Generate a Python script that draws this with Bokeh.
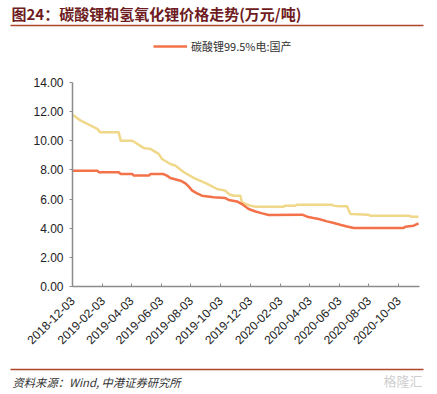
from datetime import datetime, timedelta
import numpy as np
from bokeh.plotting import figure
from bokeh.models import (ColumnDataSource, FixedTicker, DatetimeTickFormatter, NumeralTickFormatter,
                          Range1d, Label, Legend, LegendItem, BoxAnnotation)
from bokeh.embed import file_html
from bokeh.resources import INLINE

# ---------------- data ----------------
carb_dates = ["2018-12-03", "2019-01-23", "2019-01-26", "2019-03-08", "2019-03-12", "2019-04-05",
              "2019-04-08", "2019-05-09", "2019-05-12", "2019-06-08", "2019-06-15", "2019-06-22",
              "2019-07-13", "2019-07-23", "2019-07-30", "2019-08-06", "2019-08-16", "2019-08-26",
              "2019-09-19", "2019-10-13", "2019-10-20", "2019-11-06", "2019-11-16", "2019-11-30",
              "2019-12-14", "2019-12-28", "2020-01-10", "2020-03-19", "2020-03-29", "2020-04-11",
              "2020-04-22", "2020-05-09", "2020-05-23", "2020-06-05", "2020-06-19", "2020-07-03",
              "2020-10-13", "2020-10-17", "2020-11-03", "2020-11-13"]
carb_values = [7.95, 7.95, 7.84, 7.84, 7.72, 7.72,
               7.61, 7.61, 7.72, 7.72, 7.61, 7.45,
               7.26, 7.08, 6.85, 6.58, 6.39, 6.23,
               6.12, 6.07, 5.94, 5.84, 5.66, 5.32,
               5.15, 5.02, 4.91, 4.93, 4.79, 4.70,
               4.63, 4.47, 4.36, 4.24, 4.12, 4.01,
               4.01, 4.10, 4.17, 4.33]

hydro_dates = ["2018-12-03", "2018-12-19", "2019-01-23", "2019-01-29", "2019-03-08", "2019-03-12",
               "2019-04-05", "2019-04-28", "2019-05-12", "2019-05-29", "2019-06-05", "2019-06-22",
               "2019-07-02", "2019-07-20", "2019-08-09", "2019-09-06", "2019-09-26", "2019-10-13",
               "2019-10-20", "2019-10-30", "2019-11-13", "2019-11-16", "2019-12-03", "2019-12-14",
               "2020-02-10", "2020-02-13", "2020-03-05", "2020-03-08", "2020-05-19", "2020-05-22",
               "2020-06-02", "2020-06-19", "2020-06-26", "2020-08-02", "2020-08-06", "2020-10-24",
               "2020-10-30", "2020-11-13"]
hydro_values = [11.78, 11.40, 10.82, 10.58, 10.58, 10.00,
                10.00, 9.51, 9.44, 9.10, 8.75, 8.41,
                8.30, 7.84, 7.45, 7.04, 6.69, 6.58,
                6.35, 6.23, 6.23, 5.77, 5.55, 5.48,
                5.48, 5.55, 5.55, 5.61, 5.61, 5.55,
                5.50, 5.50, 4.98, 4.93, 4.86, 4.86,
                4.79, 4.79]

tick_labels = ["2018-12-03", "2019-02-03", "2019-04-03", "2019-06-03", "2019-08-03", "2019-10-03",
               "2019-12-03", "2020-02-03", "2020-04-03", "2020-06-03", "2020-08-03", "2020-10-03"]
y_ticks = [0, 2, 4, 6, 8, 10, 12, 14]
x_first, x_last = "2018-12-03", "2020-11-15"
y_min, y_max = 0, 14

title_text = "图24：碳酸锂和氢氧化锂价格走势(万元/吨)"
legend_label = "碳酸锂99.5%电:国产"
source_text = "资料来源：Wind, 中港证券研究所"
watermark_text = "格隆汇"

# ---------------- helpers ----------------
def to_dt(s):
    return datetime.strptime(s, "%Y-%m-%d")

def to_ms(s):
    return (to_dt(s) - datetime(1970, 1, 1)).total_seconds() * 1000.0

RED = "#F3724A"
YELLOW = "#F0D88A"
MAROON = "#6E1C22"
RULE = "#B0452E"
AXIS = "#8C8C8C"
FONT = "Liberation Sans"
CJK = "Noto Sans CJK SC"

# canvas layout (pixels): the whole canvas is the plot frame, axes sit at fixed locations
W, H = 433, 392
AX_L, AX_R = 72, 419      # x pixel of first / last date on the axis
AX_T, AX_B = 82, 286      # y pixel of y_max / y_min

span_days = (to_dt(x_last) - to_dt(x_first)).days
px_day = (AX_R - AX_L) / span_days
x_start = to_dt(x_first) - timedelta(days=AX_L / px_day)
x_end = to_dt(x_last) + timedelta(days=(W - AX_R) / px_day)
px_unit = (AX_B - AX_T) / (y_max - y_min)
y_top = y_max + AX_T / px_unit
y_bot = y_min - (H - AX_B) / px_unit

p = figure(width=W, height=H, x_axis_type="datetime", output_backend="svg", toolbar_location=None,
           x_range=Range1d(x_start, x_end), y_range=Range1d(y_bot, y_top),
           min_border=0, min_border_left=0, min_border_right=0, min_border_top=0, min_border_bottom=0)
p.outline_line_color = None
p.grid.visible = False
p.background_fill_color = "white"
p.border_fill_color = "white"

src_h = ColumnDataSource(dict(x=[to_dt(d) for d in hydro_dates], y=hydro_values))
src_c = ColumnDataSource(dict(x=[to_dt(d) for d in carb_dates], y=carb_values))
p.line("x", "y", source=src_h, line_color=YELLOW, line_width=2.5)
r_c = p.line("x", "y", source=src_c, line_color=RED, line_width=2.5)

xa = p.xaxis[0]
xa.fixed_location = y_min
xa.bounds = (to_ms(x_first), to_ms(x_last))
xa.ticker = FixedTicker(ticks=[to_ms(t) for t in tick_labels])
fmt = "%Y-%m-%d"
xa.formatter = DatetimeTickFormatter(milliseconds=fmt, seconds=fmt, minsec=fmt, minutes=fmt, hourmin=fmt,
                                     hours=fmt, days=fmt, months=fmt, years=fmt)
xa.major_label_orientation = np.pi / 4
xa.major_tick_in = 3
xa.major_tick_out = 0
xa.minor_tick_line_color = None
xa.axis_line_color = AXIS
xa.axis_line_width = 1.5
xa.major_tick_line_color = AXIS
xa.major_label_text_font = FONT
xa.major_label_text_font_size = "12px"
xa.major_label_text_color = "#222222"
xa.major_label_standoff = 12

ya = p.yaxis[0]
ya.fixed_location = to_ms(x_first)
ya.bounds = (y_min, y_max)
ya.ticker = FixedTicker(ticks=y_ticks)
ya.formatter = NumeralTickFormatter(format="0.00")
ya.major_tick_in = 0
ya.major_tick_out = 3
ya.minor_tick_line_color = None
ya.axis_line_color = AXIS
ya.axis_line_width = 1.5
ya.major_tick_line_color = AXIS
ya.major_label_text_font = FONT
ya.major_label_text_font_size = "12px"
ya.major_label_text_color = "#222222"
ya.major_label_standoff = 6

# legend (only the carbonate series is listed in the original)
legend = Legend(items=[LegendItem(label=legend_label, renderers=[r_c])],
                location=(153, H - 47 - 7), orientation="horizontal",
                glyph_width=34, glyph_height=14, label_height=14, label_standoff=4,
                padding=0, margin=0, spacing=0,
                border_line_color=None, background_fill_alpha=0,
                label_text_font=CJK, label_text_font_size="11px", label_text_color="#333333")
p.add_layout(legend, "center")

# header / footer texts and rules (screen units, y measured up from the canvas bottom)
p.add_layout(Label(x=11, y=H - 12.5, x_units="screen", y_units="screen", text=title_text,
                   text_font=CJK, text_font_style="bold", text_font_size="15px",
                   text_color=MAROON, text_baseline="middle"))
for rule_y in (25, 369):
    p.add_layout(BoxAnnotation(left=10, right=423, bottom=H - rule_y - 0.8, top=H - rule_y + 0.8,
                               left_units="screen", right_units="screen",
                               bottom_units="screen", top_units="screen",
                               fill_color=RULE, fill_alpha=1.0, line_color=None))
p.add_layout(Label(x=12, y=H - 381, x_units="screen", y_units="screen", text=source_text,
                   text_font=CJK, text_font_style="italic", text_font_size="11.3px",
                   text_color="#333333", text_baseline="middle"))
p.add_layout(Label(x=383, y=H - 380, x_units="screen", y_units="screen", text=watermark_text,
                   text_font=CJK, text_font_size="13px",
                   text_color="#CFCFCF", text_baseline="middle"))

open("out.html", "w").write(file_html(p, INLINE))
